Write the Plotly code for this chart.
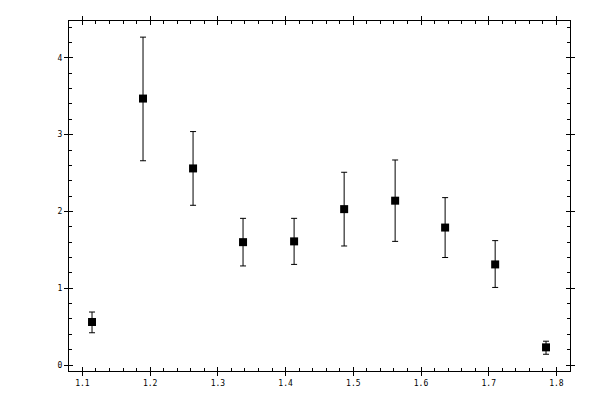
import plotly.graph_objects as go

# values
x_vals = [1.1142, 1.1895, 1.2634, 1.3372, 1.4126, 1.4865, 1.5618, 1.6356, 1.7095, 1.7846]
y_vals = [0.56, 3.47, 2.56, 1.60, 1.61, 2.03, 2.14, 1.79, 1.31, 0.23]
y_err_plus = [0.13, 0.80, 0.48, 0.31, 0.30, 0.48, 0.53, 0.39, 0.31, 0.08]
y_err_minus = [0.14, 0.81, 0.48, 0.31, 0.30, 0.48, 0.53, 0.39, 0.30, 0.09]

x_range = [1.0802, 1.8200]
y_range = [-0.078, 4.48]

tick_font = dict(family='DejaVu Sans Mono', size=8, color='#000')

fig = go.Figure()

# main points with error bars
fig.add_trace(go.Scatter(
    x=x_vals,
    y=y_vals,
    mode='markers',
    marker=dict(symbol='square', size=8, color='#000'),
    error_y=dict(type='data', symmetric=False, array=y_err_plus, arrayminus=y_err_minus,
                 color='#000', thickness=1, width=3),
    showlegend=False,
    hoverinfo='skip'
))

# invisible copy on overlay axes so the inner half of the major ticks gets drawn
fig.add_trace(go.Scatter(
    x=x_vals, y=y_vals, mode='markers', marker=dict(opacity=0),
    xaxis='x2', yaxis='y2', showlegend=False, hoverinfo='skip'
))

# page body has a margin, so margins are shifted to compensate
fig.update_layout(
    width=600,
    height=400,
    margin=dict(l=61, r=38, t=8, b=37),
    paper_bgcolor='white',
    plot_bgcolor='white',
    xaxis=dict(
        range=x_range, dtick=0.1, tick0=1.0, tickformat='.1f',
        showgrid=False, zeroline=False,
        showline=True, linecolor='#000', linewidth=1, mirror='ticks',
        ticks='outside', ticklen=4, tickcolor='#000', tickwidth=1,
        minor=dict(ticks='inside', dtick=0.02, tick0=1.0, ticklen=3, tickcolor='#000', showgrid=False),
        tickfont=tick_font
    ),
    yaxis=dict(
        range=y_range, dtick=1, tick0=0,
        showgrid=False, zeroline=False,
        showline=True, linecolor='#000', linewidth=1, mirror='ticks',
        ticks='outside', ticklen=4, tickcolor='#000', tickwidth=1,
        minor=dict(ticks='inside', dtick=0.2, tick0=0, ticklen=3, tickcolor='#000', showgrid=False),
        tickfont=tick_font
    ),
    xaxis2=dict(
        overlaying='x', matches='x', anchor='y2', side='bottom',
        range=x_range, dtick=0.1, tick0=1.0,
        showgrid=False, zeroline=False, showline=False, mirror='ticks',
        ticks='inside', ticklen=4, tickcolor='#000', showticklabels=False
    ),
    yaxis2=dict(
        overlaying='y', matches='y', anchor='x2', side='left',
        range=y_range, dtick=1, tick0=0,
        showgrid=False, zeroline=False, showline=False, mirror='ticks',
        ticks='inside', ticklen=4, tickcolor='#000', showticklabels=False
    )
)

fig.write_html('out.html')
